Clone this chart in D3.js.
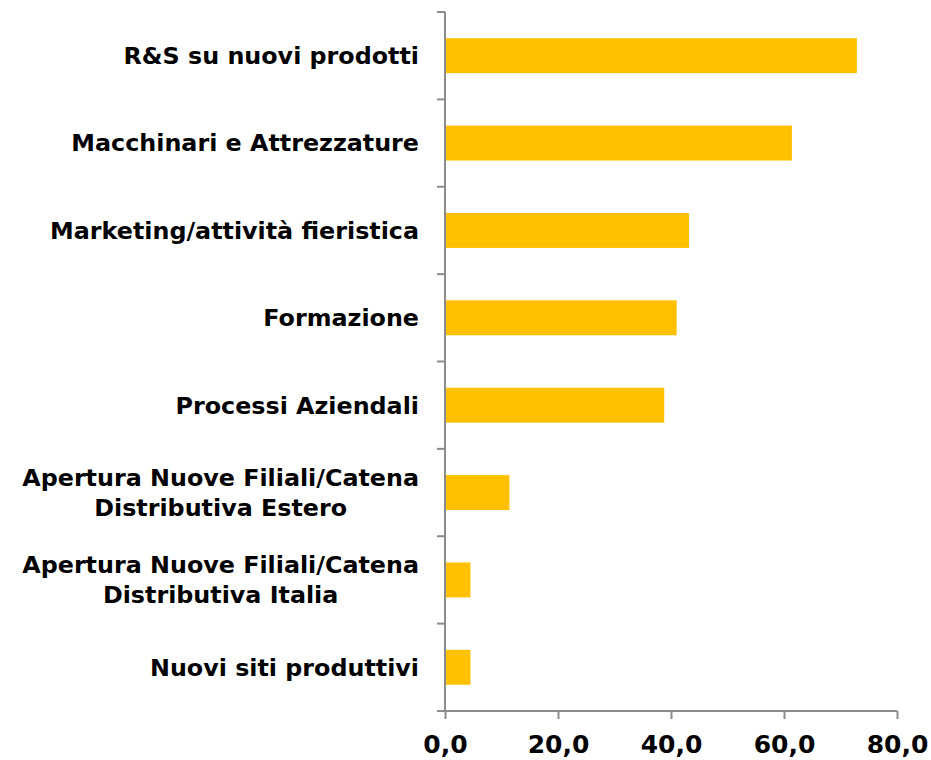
<!doctype html>
<html lang="en">
<head>
  <meta charset="utf-8">
  <title>Investimenti</title>
  <style>
    body { margin: 0; background: #fff; }
    text { font-family: "DejaVu Sans", Verdana, sans-serif; font-weight: bold; }
  </style>
</head>
<body>
<div id="mychart"></div>
<script src="https://d3js.org/d3.v7.min.js"></script>
<script>
var categories = [
  ["R&S su nuovi prodotti"],
  ["Macchinari e Attrezzature"],
  ["Marketing/attività fieristica"],
  ["Formazione"],
  ["Processi Aziendali"],
  ["Apertura Nuove Filiali/Catena", "Distributiva Estero"],
  ["Apertura Nuove Filiali/Catena", "Distributiva Italia"],
  ["Nuovi siti produttivi"]
];
var values = [72.9, 61.4, 43.2, 41.0, 38.8, 11.4, 4.5, 4.5];
var xTicks = [0, 20, 40, 60, 80];

var width = 931;
var height = 760;
var margin = {top: 12, right: 34, bottom: 49, left: 445};

var svg = d3.select("#mychart").append("svg")
  .attr("width", width)
  .attr("height", height);

var x = d3.scaleLinear()
  .domain([0, 80])
  .range([margin.left, width - margin.right]);

var y = d3.scaleBand()
  .domain(d3.range(categories.length))
  .range([margin.top, height - margin.bottom])
  .paddingInner(0.6)
  .paddingOuter(0.3);

// bars
svg.selectAll("rect.bar").data(values)
  .enter()
  .append("rect")
  .attr("class", "bar")
  .attr("x", x(0))
  .attr("y", function(d, i) { return y(i); })
  .attr("width", function(d) { return x(d) - x(0); })
  .attr("height", y.bandwidth())
  .attr("fill", "#FFC000");

// y axis: line + ticks at band boundaries
var step = y.step();
var bounds = d3.range(categories.length + 1).map(function(i) { return margin.top + i * step; });
var axisColor = "#8c8c8c";

svg.append("line")
  .attr("x1", x(0)).attr("x2", x(0))
  .attr("y1", margin.top).attr("y2", height - margin.bottom)
  .attr("stroke", axisColor).attr("stroke-width", 2);

svg.selectAll("line.ytick").data(bounds)
  .enter()
  .append("line")
  .attr("class", "ytick")
  .attr("x1", x(0) - 8).attr("x2", x(0))
  .attr("y1", function(d) { return d; })
  .attr("y2", function(d) { return d; })
  .attr("stroke", axisColor).attr("stroke-width", 2);

// x axis
var xAxis = svg.append("g")
  .attr("transform", "translate(0," + (height - margin.bottom) + ")")
  .call(d3.axisBottom(x)
    .tickValues(xTicks)
    .tickSize(8)
    .tickFormat(function(d) { return d3.format(".1f")(d).replace(".", ","); }));

xAxis.select(".domain").attr("stroke", axisColor).attr("stroke-width", 2)
  .attr("d", "M" + (x(0) - 8) + ",0H" + x(80));
xAxis.selectAll(".tick line").attr("stroke", axisColor).attr("stroke-width", 2);
xAxis.selectAll(".tick text")
  .attr("y", 24)
  .attr("font-size", 25)
  .attr("fill", "#000")
  .style("font-family", "\"DejaVu Sans\", Verdana, sans-serif")
  .style("font-weight", "bold");

// category labels
var labelRight = x(0) - 26;
var lineH = 30;
var labels = svg.selectAll("g.label").data(categories)
  .enter()
  .append("g")
  .attr("class", "label");

labels.each(function(lines, i) {
  var g = d3.select(this);
  var cy = margin.top + (i + 0.5) * step;
  var texts = g.selectAll("text").data(lines).enter()
    .append("text")
    .attr("font-size", 23.8)
    .attr("fill", "#000")
    .attr("text-anchor", "middle")
    .attr("dy", "0.35em")
    .attr("y", function(d, j) { return cy + (j - (lines.length - 1) / 2) * lineH; })
    .text(function(d) { return d; });
  var maxW = d3.max(texts.nodes(), function(n) { return n.getComputedTextLength(); });
  texts.attr("x", labelRight - maxW / 2);
});
</script>
</body>
</html>
